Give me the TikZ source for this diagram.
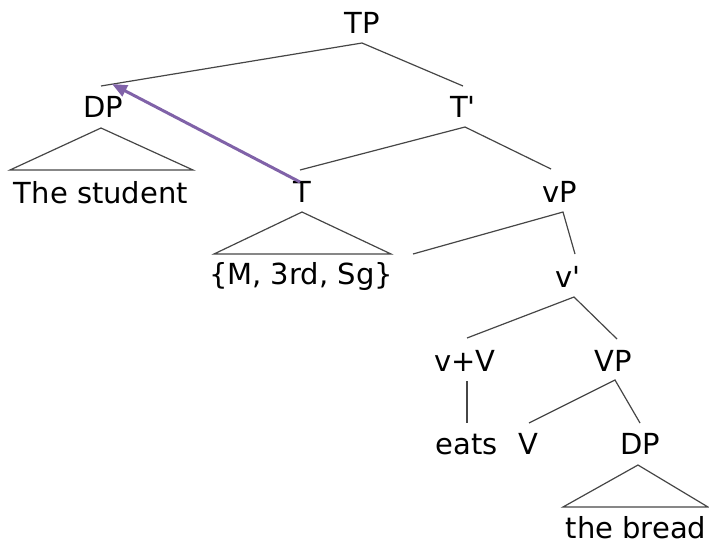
\documentclass[tikz,border=0pt]{standalone}
\usepackage{fontspec}
\setmainfont{DejaVu Sans}
\usetikzlibrary{arrows.meta}
\definecolor{branch}{RGB}{70,70,70}
\definecolor{movec}{RGB}{128,98,168}
\begin{document}
\begin{tikzpicture}[x=1pt,y=-1pt,
  lab/.style={inner sep=0pt, anchor=base, font=\fontsize{29}{32}\selectfont},
  br/.style={draw=branch, line width=1.2pt},
  tri/.style={draw=branch, line width=1.2pt, line join=miter},
  movearrow/.style={draw=movec, line width=3pt, -{Triangle[length=15pt,width=12pt]}}]
\useasboundingbox (0,0) rectangle (709,544);
% labels
\node[lab] (TP) at (362,33) {TP};
\node[lab] (DP1) at (103,117) {DP};
\node[lab] (Tbar) at (463,117) {T\textquotesingle};
\node[lab] (stu) at (101,203) {The student};
\node[lab] (T) at (302,202) {T};
\node[lab] (vP) at (560,202) {vP};
\node[lab] (feat) at (301,284) {\{M, 3rd, Sg\}};
\node[lab] (vbar) at (568,287) {v\textquotesingle};
\node[lab] (vV) at (465,371) {v+V};
\node[lab] (VP) at (613,371) {VP};
\node[lab] (eats) at (467,454) {eats};
\node[lab] (V) at (528,454) {V};
\node[lab] (DP2) at (640,454) {DP};
\node[lab] (bread) at (636,538) {the bread};
% branch points
\coordinate (TPa) at (362,43);
\coordinate (DP1t) at (101,86);
\coordinate (Tbart) at (463,86);
\coordinate (Tbara) at (465,127);
\coordinate (Tt) at (300,170);
\coordinate (vPt) at (551,169);
\coordinate (vPa) at (563,212);
\coordinate (spec) at (413,254);
\coordinate (vbart) at (575,254);
\coordinate (vbara) at (574,297);
\coordinate (vVt) at (467,338);
\coordinate (VPt) at (617,339);
\coordinate (vVa) at (467,381);
\coordinate (eatst) at (467,423);
\coordinate (VPa) at (615,380);
\coordinate (Vt) at (529,423);
\coordinate (DP2t) at (640,423);
% tree lines
\draw[br] (DP1t) -- (TPa) -- (Tbart);
\draw[br] (Tt) -- (Tbara) -- (vPt);
\draw[br] (spec) -- (vPa) -- (vbart);
\draw[br] (vVt) -- (vbara) -- (VPt);
\draw[br] (vVa) -- (eatst);
\draw[br] (Vt) -- (VPa) -- (DP2t);
% triangles
\draw[tri] (10,170) -- (101,128) -- (193,170) -- cycle;
\draw[tri] (214,254) -- (302,212) -- (391,254) -- cycle;
\draw[tri] (563,507) -- (638,465) -- (708,507) -- cycle;
% movement arrow
\coordinate (mvs) at (300,182);
\coordinate (mve) at (112,84);
\draw[movearrow] (mvs) -- (mve);
\end{tikzpicture}
\end{document}
